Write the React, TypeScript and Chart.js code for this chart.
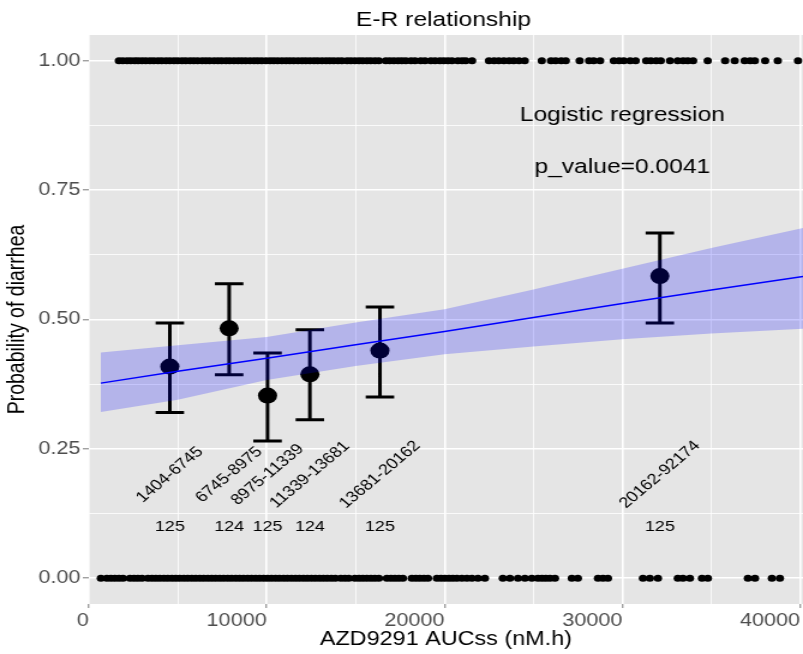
import React, { useEffect, useRef } from 'react';
import { Chart, registerables } from 'chart.js';

Chart.register(...registerables);

// the reference picture is horizontally stretched; draw on a narrower canvas and stretch it by CSS
const STRETCH = 1.2;
const W = 803;
const H = 654;
const CW = Math.round(W / STRETCH);
const FONT = '"Liberation Sans", Arial, sans-serif';

// individual subjects (AUCss) with diarrhea = 1
const diarrheaYes = [
  1690, 1905, 2150, 2355, 2580, 2770,
  2990, 3200, 3440, 3650, 3890,
  4100, 4340, 4555, 4790, 5000, 5240, 5450,
  5690, 5900, 6120, 6370, 6580, 6790, 7040, 7260, 7470, 7710, 7920, 8160, 8390, 8600, 8820,
  9060, 9290, 9500, 9720, 9960, 10190, 10400, 10620, 10860, 11090, 11300, 11520, 11760,
  11990, 12200, 12430, 12660, 12870, 13110, 13340, 13550, 13770, 14010, 14230,
  14520, 14730, 14960, 15190, 15400, 15640, 15850, 16090, 16310,
  16700, 16920, 17150, 17390, 17600, 17820,
  18110, 18340,
  18660, 18900,
  19230, 19470, 19740, 19960, 20190,
  20420, 20750, 20990, 21190, 21550,
  22500, 22790, 23050, 23340, 23630, 23890, 24190, 24510,
  25470, 25990, 26250, 26560, 26820,
  27600, 28130, 28390, 28750,
  29520, 29820, 30080, 30440, 30750,
  31340, 31600, 31900, 32160,
  32680, 33110, 33420, 33680, 33980,
  34800, 35780, 36320, 36880, 37190, 37450, 38030, 38740, 39880,
];

// individual subjects (AUCss) with diarrhea = 0
const diarrheaNo = [
  675, 1010, 1240, 1460, 1690, 1920,
  2310, 2540, 2760, 2990,
  3320, 3550, 3770, 3990, 4220, 4440, 4670, 4890, 5110, 5340, 5560, 5790, 6010, 6240,
  6460, 6690, 6910, 7130, 7360, 7580, 7810, 8030, 8260, 8480, 8700, 8930, 9150, 9380,
  9600, 9830, 10050, 10270, 10500, 10720, 10950, 11170, 11400, 11620, 11840, 12070,
  12290, 12520, 12740, 12970, 13190, 13410, 13640, 13860,
  14170, 14400, 14620,
  14960, 15190, 15410, 15630, 15860, 16080, 16310,
  16760, 16990, 17210, 17430, 17660,
  18160, 18390, 18610, 18840, 19070,
  19570, 19800, 20020, 20250,
  20470, 20700, 20980, 21260, 21540, 21880, 22270,
  23280, 23680, 24130, 24520, 24910, 25250, 25480, 25700, 25930, 26210,
  27160, 27500,
  28630, 28910, 29190,
  31160, 31550, 32000,
  33120, 33410, 33800,
  34480, 34810,
  37060, 37460,
  38410, 38860,
];

// exposure groups
const groupLabels = ['1404-6745', '6745-8975', '8975-11339', '11339-13681', '13681-20162', '20162-92174'];
const groupN = [125, 124, 125, 124, 125, 125];
const groupX = [4555, 7890, 10050, 12430, 16370, 32110];
const groupP = [0.409, 0.483, 0.353, 0.394, 0.440, 0.584];
const groupLo = [0.320, 0.393, 0.265, 0.306, 0.350, 0.493];
const groupHi = [0.493, 0.569, 0.435, 0.480, 0.524, 0.667];

// logistic regression fit and its confidence band
const fitX = [675, 5000, 10000, 15000, 20000, 25000, 30000, 35000, 40160];
const fitP = [0.377, 0.400, 0.425, 0.451, 0.477, 0.504, 0.531, 0.557, 0.583];
const fitLo = [0.321, 0.345, 0.383, 0.410, 0.433, 0.448, 0.462, 0.473, 0.482];
const fitHi = [0.436, 0.450, 0.466, 0.494, 0.520, 0.558, 0.598, 0.638, 0.677];

// axis ticks (major labelled, minor unlabelled)
const xTickValues = [0, 5000, 10000, 15000, 20000, 25000, 30000, 35000, 40000];
const xTickLabels = ['0', '', '10000', '', '20000', '', '30000', '', '40000'];
const yTickValues = [0, 0.125, 0.25, 0.375, 0.5, 0.625, 0.75, 0.875, 1];
const yTickLabels = ['0.00', '', '0.25', '', '0.50', '', '0.75', '', '1.00'];

const capHalf = 800;
const labelY = 0.2;
const countY = 0.1;
const annotX = 30000;
const annotLines = [
  { text: 'Logistic regression', y: 0.895 },
  { text: 'p_value=0.0041', y: 0.795 },
];
const titleText = 'E-R relationship';
const xTitle = 'AZD9291 AUCss (nM.h)';
const yTitle = 'Probability of diarrhea';

const panelPlugin = {
  id: 'panelBg',
  beforeDraw(chart: any) {
    const { ctx, chartArea } = chart;
    ctx.save();
    ctx.fillStyle = '#E5E5E5';
    ctx.fillRect(chartArea.left, chartArea.top, chartArea.right - chartArea.left, chartArea.bottom - chartArea.top);
    ctx.restore();
  },
};

const textPlugin = {
  id: 'texts',
  afterDatasetsDraw(chart: any) {
    const { ctx, chartArea, scales } = chart;
    const xs = scales.x;
    const ys = scales.y;
    ctx.save();
    ctx.fillStyle = '#000';
    ctx.textAlign = 'center';
    ctx.textBaseline = 'middle';
    ctx.font = `15px ${FONT}`;
    groupLabels.forEach((lab, i) => {
      const px = xs.getPixelForValue(groupX[i]);
      ctx.save();
      ctx.translate(px, ys.getPixelForValue(labelY));
      ctx.rotate(-Math.PI / 4);
      ctx.fillText(lab, 0, 0);
      ctx.restore();
      ctx.fillText(String(groupN[i]), px, ys.getPixelForValue(countY));
    });
    ctx.font = `20.5px ${FONT}`;
    annotLines.forEach((a) => {
      ctx.fillText(a.text, xs.getPixelForValue(annotX), ys.getPixelForValue(a.y));
    });
    ctx.fillText(titleText, (chartArea.left + chartArea.right) / 2 - 2, 20);
    ctx.restore();
  },
};

const setTicks = (values: number[]) => (s: any) => {
  s.ticks = values.map((value) => ({ value }));
};

const zeroPad = (s: any) => {
  s.paddingLeft = 0;
  s.paddingRight = 0;
  s.paddingTop = 0;
  s.paddingBottom = 0;
};

export default function App() {
  const ref = useRef<HTMLCanvasElement>(null);

  useEffect(() => {
    if (!ref.current) return;
    const errData: any[] = [];
    groupX.forEach((gx, i) => {
      errData.push({ x: gx - capHalf, y: groupHi[i] }, { x: gx + capHalf, y: groupHi[i] }, { x: gx, y: null });
      errData.push({ x: gx, y: groupHi[i] }, { x: gx, y: groupLo[i] }, { x: gx, y: null });
      errData.push({ x: gx - capHalf, y: groupLo[i] }, { x: gx + capHalf, y: groupLo[i] }, { x: gx, y: null });
    });

    const chart = new Chart(ref.current, {
      type: 'scatter',
      data: {
        datasets: [
          {
            type: 'line',
            label: 'fit',
            data: fitX.map((x, i) => ({ x, y: fitP[i] })),
            borderColor: '#0000FF',
            borderWidth: 1.5,
            pointRadius: 0,
            fill: false,
            order: 0,
          },
          {
            type: 'line',
            label: 'ci low',
            data: fitX.map((x, i) => ({ x, y: fitLo[i] })),
            borderColor: 'rgba(0,0,0,0)',
            borderWidth: 1,
            pointRadius: 0,
            fill: false,
            order: 1,
          },
          {
            type: 'line',
            label: 'ci high',
            data: fitX.map((x, i) => ({ x, y: fitHi[i] })),
            borderColor: 'rgba(0,0,0,0)',
            borderWidth: 1,
            pointRadius: 0,
            fill: '-1',
            backgroundColor: 'rgba(0,0,255,0.21)',
            order: 1,
          },
          {
            type: 'scatter',
            label: 'group mean',
            data: groupX.map((x, i) => ({ x, y: groupP[i] })),
            pointRadius: 8,
            pointBackgroundColor: '#000',
            pointBorderWidth: 0,
            order: 2,
          },
          {
            type: 'line',
            label: 'error bars',
            data: errData,
            borderColor: '#000',
            borderWidth: 3,
            pointRadius: 0,
            spanGaps: false,
            fill: false,
            order: 3,
          },
          {
            type: 'scatter',
            label: 'diarrhea',
            data: diarrheaYes.map((x) => ({ x, y: 1 })),
            pointRadius: 3.5,
            pointBackgroundColor: '#000',
            pointBorderWidth: 0,
            order: 4,
          },
          {
            type: 'scatter',
            label: 'no diarrhea',
            data: diarrheaNo.map((x) => ({ x, y: 0 })),
            pointRadius: 3.5,
            pointBackgroundColor: '#000',
            pointBorderWidth: 0,
            order: 4,
          },
        ] as any,
      },
      options: {
        responsive: false,
        animation: false,
        devicePixelRatio: 1,
        events: [],
        layout: { autoPadding: false, padding: { top: 35, left: 0, right: 0, bottom: 0 } },
        plugins: { legend: { display: false }, tooltip: { enabled: false }, title: { display: false } },
        scales: {
          x: {
            type: 'linear',
            min: 0,
            max: 40160,
            afterBuildTicks: setTicks(xTickValues),
            afterFit: (s: any) => { s.height = 50; zeroPad(s); },
            border: { display: false },
            grid: {
              color: '#FFFFFF',
              lineWidth: (c: any) => (xTickLabels[c.index] ? 1.6 : 0.8),
              tickColor: (c: any) => (xTickLabels[c.index] ? '#7a7a7a' : 'rgba(0,0,0,0)'),
              tickWidth: 1,
              tickLength: 4,
            },
            ticks: {
              autoSkip: false,
              maxRotation: 0,
              align: 'end',
              padding: 2,
              color: '#4D4D4D',
              font: { family: FONT, size: 18 },
              callback: (_v: any, i: number) => xTickLabels[i],
            },
            title: {
              display: true,
              text: xTitle,
              color: '#000',
              font: { family: FONT, size: 19.5 },
              padding: { top: 0, bottom: 2.5 },
            },
          },
          y: {
            type: 'linear',
            min: -0.05,
            max: 1.05,
            afterBuildTicks: setTicks(yTickValues),
            afterFit: (s: any) => { s.width = 74; zeroPad(s); },
            border: { display: false },
            grid: {
              color: '#FFFFFF',
              lineWidth: (c: any) => (yTickLabels[c.index] ? 1.6 : 0.8),
              tickColor: (c: any) => (yTickLabels[c.index] ? '#7a7a7a' : 'rgba(0,0,0,0)'),
              tickWidth: 1,
              tickLength: 5,
            },
            ticks: {
              autoSkip: false,
              padding: 2,
              color: '#4D4D4D',
              font: { family: FONT, size: 18 },
              callback: (_v: any, i: number) => yTickLabels[i],
            },
            title: {
              display: true,
              text: yTitle,
              color: '#000',
              font: { family: FONT, size: 19.5 },
              padding: { top: 3, bottom: 0 },
            },
          },
        },
      } as any,
      plugins: [panelPlugin, textPlugin],
    });
    return () => chart.destroy();
  }, []);

  return (
    <div style={{ position: 'fixed', left: 0, top: 0, width: W, height: H, background: '#fff' }}>
      <canvas ref={ref} width={CW} height={H} style={{ width: `${W}px`, height: `${H}px`, display: 'block' }} />
    </div>
  );
}
